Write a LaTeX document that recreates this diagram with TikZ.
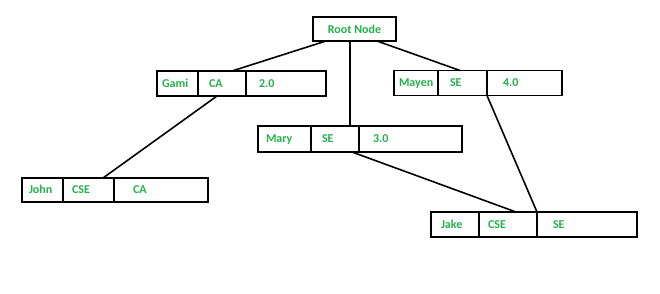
\documentclass[tikz,border=0pt]{standalone}
\usepackage{fontspec}
\setsansfont{Carlito}
\usepackage{xcolor}
\usepackage{tikz}
\usetikzlibrary{positioning}
\definecolor{recgreen}{RGB}{34,177,76}

\begin{document}
\begin{tikzpicture}[x=1pt,y=-1pt,line width=1.6pt,
  cell/.style={draw,minimum height=25pt,inner ysep=0pt,outer sep=0pt,align=left,anchor=west,
    text height=9pt,text depth=2pt,font=\sffamily\bfseries\fontsize{12}{14}\selectfont,text=recgreen}]
\useasboundingbox (0,0) rectangle (660,293);
\node[draw,minimum width=83pt,minimum height=24pt,inner sep=0pt,outer sep=0pt,font=\sffamily\bfseries\fontsize{12}{14}\selectfont,text=recgreen] (root) at (354.5,29) {Root Node};
% Gami
\node[cell,inner xsep=5pt,text width=31pt] (gami1) at (157,83.5) {Gami};
\node[cell,inner xsep=11pt,text width=26pt,right=0pt of gami1] (gami2) {CA};
\node[cell,inner xsep=13pt,text width=54pt,right=0pt of gami2] (gami3) {2.0};
% Mayen
\node[cell,inner xsep=5pt,text width=34pt] (mayen1) at (394,83) {Mayen};
\node[cell,inner xsep=12pt,text width=25pt,right=0pt of mayen1] (mayen2) {SE};
\node[cell,inner xsep=16pt,text width=43pt,right=0pt of mayen2] (mayen3) {4.0};
% Mary
\node[cell,minimum height=26pt,inner xsep=8pt,text width=37pt] (mary1) at (258,139) {Mary};
\node[cell,minimum height=26pt,inner xsep=11pt,text width=26pt,right=0pt of mary1] (mary2) {SE};
\node[cell,minimum height=26pt,inner xsep=14pt,text width=75pt,right=0pt of mary2] (mary3) {3.0};
% John
\node[cell,minimum height=24pt,inner xsep=7pt,text width=27pt] (john1) at (22,190) {John};
\node[cell,minimum height=24pt,inner xsep=9pt,text width=33pt,right=0pt of john1] (john2) {CSE};
\node[cell,minimum height=24pt,inner xsep=19pt,text width=56pt,right=0pt of john2] (john3) {CA};
% Jake
\node[cell,inner xsep=10pt,text width=28pt] (jake1) at (431,224.5) {Jake};
\node[cell,inner xsep=9pt,text width=40pt,right=0pt of jake1] (jake2) {CSE};
\node[cell,inner xsep=16pt,text width=68pt,right=0pt of jake2] (jake3) {SE};
% links
\draw ([xshift=-28.5pt]root.south) -- ([xshift=10pt]gami2.north);
\draw ([xshift=-4.5pt]root.south) -- ([xshift=15pt]mary2.north);
\draw ([xshift=22.5pt]root.south) -- ([xshift=-2.5pt]mayen2.north);
\draw ([xshift=-5pt]gami2.south) -- ([xshift=14.5pt]john2.north);
\draw ([xshift=17pt]mary2.south) -- ([xshift=8pt]jake2.north);
\draw (mayen2.south east) -- (jake2.north east);
\end{tikzpicture}
\end{document}
